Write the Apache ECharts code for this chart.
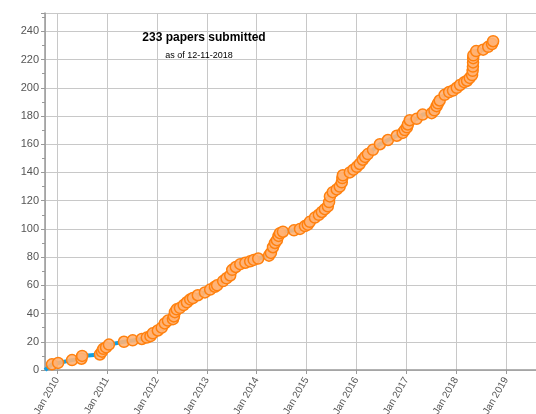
<!DOCTYPE html>
<html>
<head>
<meta charset="utf-8">
<script src="https://cdn.jsdelivr.net/npm/echarts@6/dist/echarts.min.js"></script>
<style>
  html, body { margin: 0; padding: 0; background: #fff; }
  #chart { width: 536px; height: 414px; }
</style>
</head>
<body>
<div id="chart"></div>
<script>
// submission dates and cumulative paper count
var dates = [
  '2009-10-04', '2009-11-24', '2010-01-08', '2010-04-20', '2010-06-28', '2010-07-03',
  '2010-11-10', '2010-11-25', '2010-12-05', '2010-12-25', '2011-01-15', '2011-05-05',
  '2011-07-08', '2011-09-13', '2011-10-19', '2011-11-15', '2011-12-02', '2012-01-08',
  '2012-02-06', '2012-02-28', '2012-03-22', '2012-04-28', '2012-05-05', '2012-05-12',
  '2012-05-25', '2012-06-18', '2012-07-15', '2012-08-08', '2012-09-01', '2012-09-21',
  '2012-10-27', '2012-12-18', '2013-01-25', '2013-03-01', '2013-03-17', '2013-04-30',
  '2013-05-25', '2013-06-21', '2013-07-06', '2013-08-01', '2013-09-03', '2013-10-10',
  '2013-11-14', '2013-12-10', '2014-01-12', '2014-04-01', '2014-04-15', '2014-04-30',
  '2014-05-15', '2014-05-29', '2014-06-10', '2014-06-20', '2014-07-12', '2014-10-01',
  '2014-11-14', '2014-12-20', '2015-01-10', '2015-01-25', '2015-03-03', '2015-04-01',
  '2015-04-23', '2015-05-15', '2015-06-06', '2015-06-15', '2015-06-21', '2015-07-12',
  '2015-08-10', '2015-09-01', '2015-09-16', '2015-09-20', '2015-09-24', '2015-11-14',
  '2015-12-10', '2016-01-04', '2016-01-25', '2016-02-17', '2016-03-05', '2016-03-25',
  '2016-05-01', '2016-06-21', '2016-08-19', '2016-10-23', '2016-12-05', '2016-12-20',
  '2017-01-05', '2017-01-12', '2017-01-26', '2017-03-17', '2017-04-30', '2017-07-05',
  '2017-07-25', '2017-08-10', '2017-08-20', '2017-09-02', '2017-10-08', '2017-11-10',
  '2017-12-08', '2018-01-05', '2018-01-29', '2018-03-01', '2018-03-21', '2018-04-10',
  '2018-04-27', '2018-05-01', '2018-05-03', '2018-05-04', '2018-05-05', '2018-05-06',
  '2018-05-27', '2018-07-17', '2018-08-23', '2018-09-20', '2018-09-28'
];
var counts = [
  0, 4, 5, 7, 8, 10,
  11, 13, 15, 16, 18, 20,
  21, 22, 23, 24, 26, 28,
  30, 33, 35, 36, 38, 41,
  43, 44, 46, 48, 50, 51,
  53, 55, 57, 59, 60, 63,
  65, 67, 71, 73, 75, 76,
  77, 78, 79, 81, 83, 87,
  90, 92, 95, 97, 98, 99,
  100, 102, 103, 105, 108, 110,
  112, 114, 116, 119, 123, 126,
  128, 130, 133, 136, 138, 140,
  142, 144, 146, 149, 151, 153,
  156, 160, 163, 166, 168, 170,
  172, 174, 177, 178, 181, 182,
  184, 187, 189, 191, 195, 197,
  198, 200, 202, 204, 205, 207,
  209, 212, 215, 218, 221, 223,
  226, 227, 229, 231, 233
];
var titleText = '233 papers submitted';
var subText = 'as of 12-11-2018';

var seriesData = dates.map(function (d, i) {
  var item = { value: [d, counts[i]] };
  if (i === 0) item.symbol = 'none';   // the line starts at zero without a marker
  return item;
});

var chart = echarts.init(document.getElementById('chart'));
var year = 365.25 * 24 * 3600 * 1000;
var option = {
  animation: false,
  backgroundColor: '#fff',
  textStyle: { fontFamily: 'Liberation Sans, Arial, sans-serif' },
  grid: { left: 45, right: 0, top: 13, bottom: 44, outerBoundsMode: 'none' },
  graphic: [
    { type: 'text', x: 204, y: 38, z: 10,
      style: { text: titleText, x: 0, y: 0, align: 'center', verticalAlign: 'middle',
        font: 'bold 12px Liberation Sans, Arial, sans-serif', fill: '#000' } },
    { type: 'text', x: 199, y: 56, z: 10,
      style: { text: subText, x: 0, y: 0, align: 'center', verticalAlign: 'middle',
        font: '9px Liberation Sans, Arial, sans-serif', fill: '#000' } }
  ],
  xAxis: {
    type: 'time',
    min: '2009-10-04',
    max: '2019-08-08',
    minInterval: year * 0.99,
    maxInterval: year * 1.01,
    axisLine: { show: true, lineStyle: { color: '#999', width: 1.5 } },
    axisTick: { show: true, length: 4, lineStyle: { color: '#999' } },
    axisLabel: {
      rotate: 60,
      color: '#555',
      fontSize: 10,
      showMinLabel: false,
      showMaxLabel: false,
      formatter: function (v) { return 'Jan ' + new Date(v).getFullYear(); }
    },
    splitLine: { show: true, lineStyle: { color: '#c8c8c8', width: 1 } }
  },
  yAxis: {
    type: 'value',
    min: 0,
    max: 253,
    interval: 20,
    axisLine: { show: true, lineStyle: { color: '#999', width: 1.5 } },
    axisTick: { show: true, length: 4, lineStyle: { color: '#999' } },
    minorTick: { show: true, splitNumber: 2, length: 3, lineStyle: { color: '#999' } },
    axisLabel: { color: '#555', fontSize: 11, margin: 6, showMaxLabel: false },
    splitLine: { show: true, lineStyle: { color: '#c8c8c8', width: 1 } }
  },
  series: [{
    type: 'line',
    data: seriesData,
    symbol: 'circle',
    symbolSize: 11,
    showAllSymbol: true,
    lineStyle: { color: '#0e9fe4', width: 4 },
    itemStyle: { color: 'rgba(255,178,118,0.9)', borderColor: '#ff800e', borderWidth: 1.5 },
    emphasis: { disabled: true }
  }]
};
chart.setOption(option);
window.addEventListener('resize', function () { chart.resize(); });
</script>
</body>
</html>
